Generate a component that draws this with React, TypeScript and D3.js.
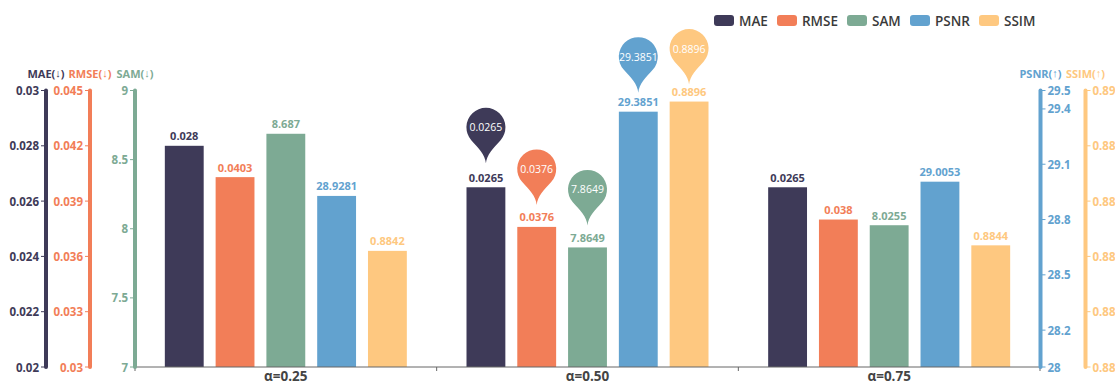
import React from "react";
import * as d3 from "d3";

const categories = ["α=0.25", "α=0.50", "α=0.75"];
const metrics = ["MAE", "RMSE", "SAM", "PSNR", "SSIM"];
const colors = ["#3e3a58", "#f27e58", "#7daa94", "#62a2cf", "#fec880"];
const maeValues = [0.028, 0.0265, 0.0265];
const rmseValues = [0.0403, 0.0376, 0.038];
const samValues = [8.687, 7.8649, 8.0255];
const psnrValues = [28.9281, 29.3851, 29.0053];
const ssimValues = [0.8842, 0.8896, 0.8844];
const seriesValues = [maeValues, rmseValues, samValues, psnrValues, ssimValues];
const valueLabels = [
  ["0.028", "0.0265", "0.0265"],
  ["0.0403", "0.0376", "0.038"],
  ["8.687", "7.8649", "8.0255"],
  ["28.9281", "29.3851", "29.0053"],
  ["0.8842", "0.8896", "0.8844"],
];
const axisTitleNames = ["MAE", "RMSE", "SAM", "PSNR", "SSIM"];
const axisTitleArrows = ["↓", "↓", "↓", "↑", "↑"];
const axisDomains = [
  [0.02, 0.03],
  [0.03, 0.045],
  [7, 9],
  [28, 29.5],
  [0.88, 0.89],
];
const axisTicks = [
  ["0.02", "0.022", "0.024", "0.026", "0.028", "0.03"],
  ["0.03", "0.033", "0.036", "0.039", "0.042", "0.045"],
  ["7", "7.5", "8", "8.5", "9"],
  ["28", "28.2", "28.5", "28.8", "29.1", "29.4", "29.5"],
  ["0.88", "0.882", "0.884", "0.886", "0.888", "0.89"],
];
// The pin markers flag the best group of each metric.
const pinnedCategory = 1;

const WIDTH = 1115;
const HEIGHT = 385;
const PLOT_TOP = 90.5;
const PLOT_BOTTOM = 367;
const PLOT_LEFT = 135;
const PLOT_RIGHT = 1040;
const AXIS_X = [46, 90, PLOT_LEFT, PLOT_RIGHT + 0.5, 1085.5];
const LEGEND_SWATCH_X = [714, 777, 847, 910, 979];
// Height of each pin's head centre above the top of its bar.
const PIN_LIFT = [60, 58, 58, 55, 53];
const PIN_HEAD_TO_TIP = 36;
const FONT = "'Open Sans', 'Noto Sans', sans-serif";

const categoryScale = d3
  .scaleBand<string>()
  .domain(categories)
  .range([PLOT_LEFT, PLOT_RIGHT]);
const bw = categoryScale.bandwidth();
const seriesScale = d3
  .scaleBand<string>()
  .domain(metrics)
  .range([bw / 2 - 121, bw / 2 + 121])
  .paddingInner(0.235)
  .paddingOuter(0);
const yScales = axisDomains.map((domain) =>
  d3.scaleLinear().domain(domain).range([PLOT_BOTTOM, PLOT_TOP])
);

// Teardrop marker: a circle at (x, cy) that tapers through concave sides to a tip below it.
function pinPath(x: number, cy: number): string {
  const r = 19.5;
  const tipY = cy + PIN_HEAD_TO_TIP;
  const theta = 0.72;
  const dx = r * Math.cos(theta);
  const dy = r * Math.sin(theta);
  const t = 11;
  const cx1 = dx - t * Math.sin(theta);
  const cy1 = dy + t * Math.cos(theta);
  const path = d3.path();
  path.moveTo(x, tipY);
  path.bezierCurveTo(x - 0.8, cy + 27, x - cx1, cy + cy1, x - dx, cy + dy);
  path.arc(x, cy, r, Math.PI - theta, 2 * Math.PI + theta);
  path.bezierCurveTo(x + cx1, cy + cy1, x + 0.8, cy + 27, x, tipY);
  path.closePath();
  return path.toString();
}

export default function App() {
  return (
    <svg
      width={WIDTH}
      height={HEIGHT}
      viewBox={`0 0 ${WIDTH} ${HEIGHT}`}
      style={{ position: "absolute", left: 0, top: 0, background: "#fff" }}
      fontFamily={FONT}
    >
      {/* Legend */}
      {metrics.map((name, i) => (
        <g key={name}>
          <rect
            x={LEGEND_SWATCH_X[i]}
            y={15}
            width={20}
            height={11}
            rx={3}
            fill={colors[i]}
          />
          <text
            x={LEGEND_SWATCH_X[i] + 25}
            y={20.5}
            dominantBaseline="central"
            fontSize={13.5}
            fontWeight={600}
            fill="#3a3a3a"
          >
            {name}
          </text>
        </g>
      ))}

      {/* Bars with value labels */}
      {metrics.map((name, s) =>
        categories.map((cat, c) => {
          const value = seriesValues[s][c];
          const x = (categoryScale(cat) ?? 0) + (seriesScale(name) ?? 0);
          const y = yScales[s](value);
          return (
            <g key={`${name}-${cat}`}>
              <rect
                x={x}
                y={y}
                width={seriesScale.bandwidth()}
                height={PLOT_BOTTOM - y}
                fill={colors[s]}
              />
              <text
                x={x + seriesScale.bandwidth() / 2}
                y={y - 10}
                textAnchor="middle"
                dominantBaseline="central"
                fontSize={11}
                fontWeight={700}
                fill={colors[s]}
              >
                {valueLabels[s][c]}
              </text>
            </g>
          );
        })
      )}

      {/* Pin markers */}
      {metrics.map((name, s) => {
        const cat = categories[pinnedCategory];
        const x =
          (categoryScale(cat) ?? 0) +
          (seriesScale(name) ?? 0) +
          seriesScale.bandwidth() / 2;
        const cy = yScales[s](seriesValues[s][pinnedCategory]) - PIN_LIFT[s];
        return (
          <g key={`pin-${name}`}>
            <path d={pinPath(x, cy)} fill={colors[s]} />
            <text
              x={x}
              y={cy}
              textAnchor="middle"
              dominantBaseline="central"
              fontSize={10.5}
              fill="#fff"
            >
              {valueLabels[s][pinnedCategory]}
            </text>
          </g>
        );
      })}

      {/* Category axis */}
      <line
        x1={PLOT_LEFT}
        x2={PLOT_RIGHT}
        y1={PLOT_BOTTOM}
        y2={PLOT_BOTTOM}
        stroke="#666"
      />
      {[...categories.map((c) => categoryScale(c) ?? 0), PLOT_RIGHT].map((x) => (
        <line
          key={x}
          x1={x}
          x2={x}
          y1={PLOT_BOTTOM}
          y2={PLOT_BOTTOM + 4}
          stroke="#666"
        />
      ))}
      {categories.map((cat) => (
        <text
          key={cat}
          x={(categoryScale(cat) ?? 0) + bw / 2}
          y={381}
          textAnchor="middle"
          fontSize={13.5}
          fontWeight={700}
          fill="#444"
        >
          {cat}
        </text>
      ))}

      {/* Value axes */}
      {metrics.map((name, s) => {
        const x = AXIS_X[s];
        const side = s < 3 ? -1 : 1;
        return (
          <g key={`axis-${name}`} fill={colors[s]}>
            <text
              x={x}
              y={73}
              textAnchor="middle"
              dominantBaseline="central"
              fontSize={11}
              fontWeight={700}
            >
              {axisTitleNames[s]}(
              <tspan fontFamily="'Liberation Sans', sans-serif" fontWeight={400}>
                {axisTitleArrows[s]}
              </tspan>
              )
            </text>
            {axisTicks[s].map((tick) => {
              const y = yScales[s](Number(tick));
              return (
                <g key={tick}>
                  <line
                    x1={x}
                    x2={x + side * 5}
                    y1={y}
                    y2={y}
                    stroke={colors[s]}
                    strokeWidth={1}
                  />
                  <text
                    x={x + side * 7}
                    y={y}
                    textAnchor={side < 0 ? "end" : "start"}
                    dominantBaseline="central"
                    fontSize={11.5}
                    fontWeight={700}
                  >
                    {tick}
                  </text>
                </g>
              );
            })}
            <line
              x1={x}
              x2={x}
              y1={PLOT_TOP}
              y2={PLOT_BOTTOM}
              stroke={colors[s]}
              strokeWidth={4}
              strokeLinecap="round"
            />
          </g>
        );
      })}
    </svg>
  );
}
